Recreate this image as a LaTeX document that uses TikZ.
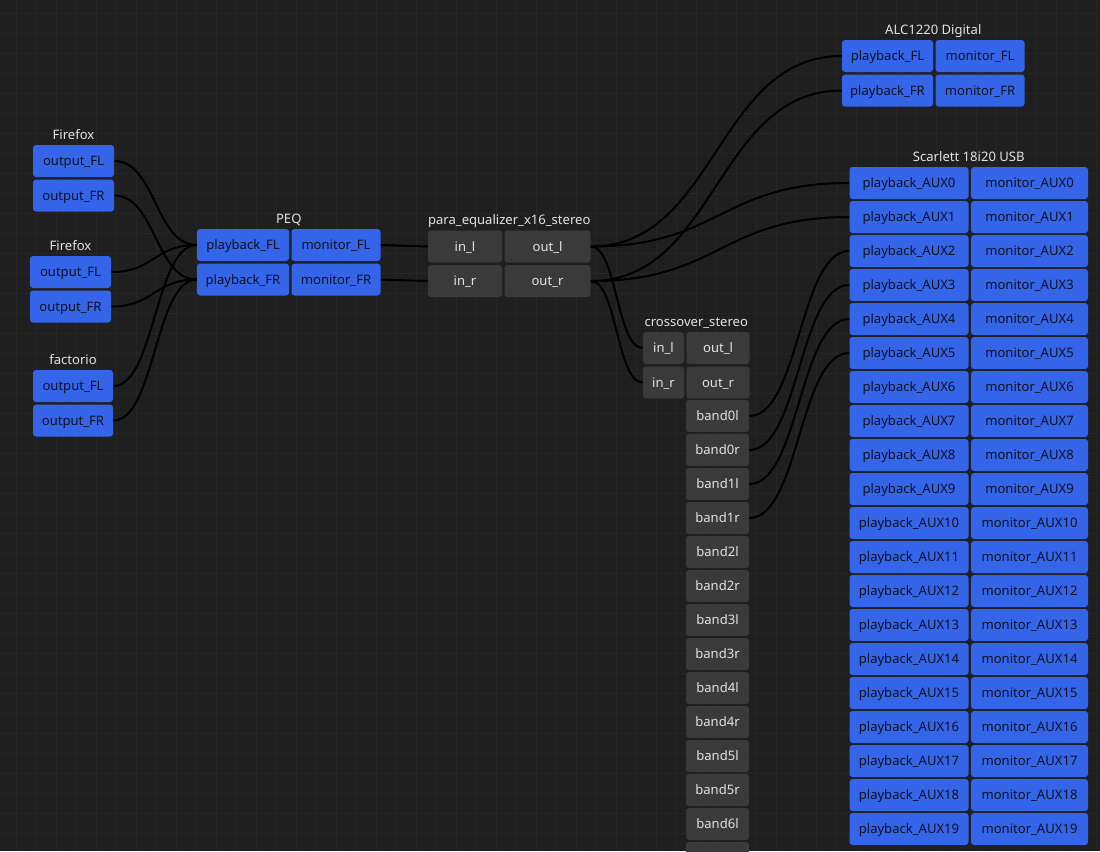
\documentclass[tikz,border=0pt]{standalone}
\usepackage{fontspec}
\setmainfont{Noto Sans}
\usetikzlibrary{positioning,calc}

\definecolor{canvas}{HTML}{1F1F1F}
\definecolor{gridline}{HTML}{262626}
\definecolor{hwblue}{HTML}{3465E9}
\definecolor{swgrey}{HTML}{3A3A3A}
\definecolor{darktext}{HTML}{0D1122}
\definecolor{lighttext}{HTML}{E2E2E2}

\tikzset{
  portfont/.style = {font=\fontsize{9.8}{11}\selectfont, text height=8pt, text depth=1pt},
  hwport/.style = {fill=hwblue, text=darktext, rounded corners=2.25pt, minimum height=24pt, inner sep=0pt, portfont},
  swport/.style = {fill=swgrey, text=lighttext, rounded corners=2.25pt, minimum height=24pt, inner sep=0pt, portfont},
  title/.style = {text=lighttext, inner sep=0pt, portfont},
  wire/.style = {line width=1.5pt, black,
    to path={let \p1=(\tikztostart), \p2=(\tikztotarget) in
      .. controls ({(\x1+\x2)/2},\y1) and ({(\x1+\x2)/2},\y2) .. (\tikztotarget)}}
}

\begin{document}
\begin{tikzpicture}[x=0.75pt, y=-0.75pt, node distance=1.5pt]
  \useasboundingbox (0,0) rectangle (1100,851);
  \fill[canvas] (0,0) rectangle (1100,851);
  \foreach \gx in {16,36,...,1096} \draw[gridline, line width=0.75pt] (\gx,0) -- (\gx,851);
  \foreach \gy in {13,33,...,853} \draw[gridline, line width=0.75pt] (0,\gy) -- (1100,\gy);

  % clients
  \node[hwport, minimum width=60.75pt] (ffaFL) at (73.5,161) {output\_FL};
  \node[hwport, minimum width=60.75pt, below=of ffaFL] (ffaFR) {output\_FR};
  \node[title, above=2.6pt of ffaFL] (ffaT) {Firefox};

  \node[hwport, minimum width=60.75pt] (ffbFL) at (70.5,272) {output\_FL};
  \node[hwport, minimum width=60.75pt, below=of ffbFL] (ffbFR) {output\_FR};
  \node[title, above=2.6pt of ffbFL] (ffbT) {Firefox};

  \node[hwport, minimum width=60pt] (facFL) at (73,386) {output\_FL};
  \node[hwport, minimum width=60pt, below=of facFL] (facFR) {output\_FR};
  \node[title, above=3.1pt of facFL] (facT) {factorio};

  % PEQ sink
  \node[hwport, minimum width=69pt] (peqPFL) at (243,245) {playback\_FL};
  \node[hwport, minimum width=66.75pt, right=of peqPFL] (peqMFL) {monitor\_FL};
  \node[hwport, minimum width=69pt, below=of peqPFL] (peqPFR) {playback\_FR};
  \node[hwport, minimum width=66.75pt, right=of peqPFR] (peqMFR) {monitor\_FR};
  \node[title, above=3.1pt] (peqT) at ($(peqPFL.north west)!.5!(peqMFL.north east)$) {PEQ};

  % equalizer filter
  \node[swport, minimum width=55.5pt] (eqInL) at (465,246.5) {in\_l};
  \node[swport, minimum width=64.5pt, right=of eqInL] (eqOutL) {out\_l};
  \node[swport, minimum width=55.5pt, below=of eqInL] (eqInR) {in\_r};
  \node[swport, minimum width=64.5pt, right=of eqInR] (eqOutR) {out\_r};
  \node[title, above=3.1pt] (eqT) at ($(eqInL.north west)!.5!(eqOutL.north east)$) {para\_equalizer\_x16\_stereo};

  % crossover
  \node[swport, minimum width=30.75pt] (xInL) at (663.5,348) {in\_l};
  \node[swport, minimum width=47.25pt, right=of xInL] (xOutL) {out\_l};
  \node[swport, minimum width=30.75pt, below=of xInL] (xInR) {in\_r};
  \node[swport, minimum width=47.25pt, right=of xInR] (xOutR) {out\_r};
  \node[title, above=3.1pt] (xT) at ($(xInL.north west)!.5!(xOutL.north east)$) {crossover\_stereo};
  \foreach \b [count=\k] in {0l,0r,1l,1r,2l,2r,3l,3r,4l,4r,5l,5r,6l}
    \node[swport, minimum width=47.25pt] (xb\b) at (717.5,{382+34*\k}) {band\b};
  % next band port, only its top edge shows
  \node[swport, minimum width=47.25pt] (xb6r) at (717.5,858) {};

  % ALC1220
  \node[hwport, minimum width=68.25pt] (alcPFL) at (887.5,56) {playback\_FL};
  \node[hwport, minimum width=66.75pt, right=of alcPFL] (alcMFL) {monitor\_FL};
  \node[hwport, minimum width=68.25pt, below=of alcPFL] (alcPFR) {playback\_FR};
  \node[hwport, minimum width=66.75pt, right=of alcPFR] (alcMFR) {monitor\_FR};
  \node[title, above=3.1pt] (alcT) at ($(alcPFL.north west)!.5!(alcMFL.north east)$) {ALC1220 Digital};

  % Scarlett
  \foreach \i in {0,...,19} {
    \node[hwport, minimum width=89.25pt] (scP\i) at (909,{183+34*\i}) {playback\_AUX\i};
    \node[hwport, minimum width=87.75pt, right=of scP\i] (scM\i) {monitor\_AUX\i};
  }
  \node[title, above=3.1pt] (scT) at ($(scP0.north west)!.5!(scM0.north east)$) {Scarlett 18i20 USB};

  % links
  \foreach \src/\dst in {ffaFL/peqPFL, ffaFR/peqPFR, ffbFL/peqPFL, ffbFR/peqPFR,
      facFL/peqPFL, facFR/peqPFR, peqMFL/eqInL, peqMFR/eqInR,
      eqOutL/alcPFL, eqOutR/alcPFR, eqOutL/scP0, eqOutR/scP1,
      eqOutL/xInL, eqOutR/xInR,
      xb0l/scP2, xb0r/scP3, xb1l/scP4, xb1r/scP5}
    \draw[wire] (\src.east) to (\dst.west);
\end{tikzpicture}
\end{document}
